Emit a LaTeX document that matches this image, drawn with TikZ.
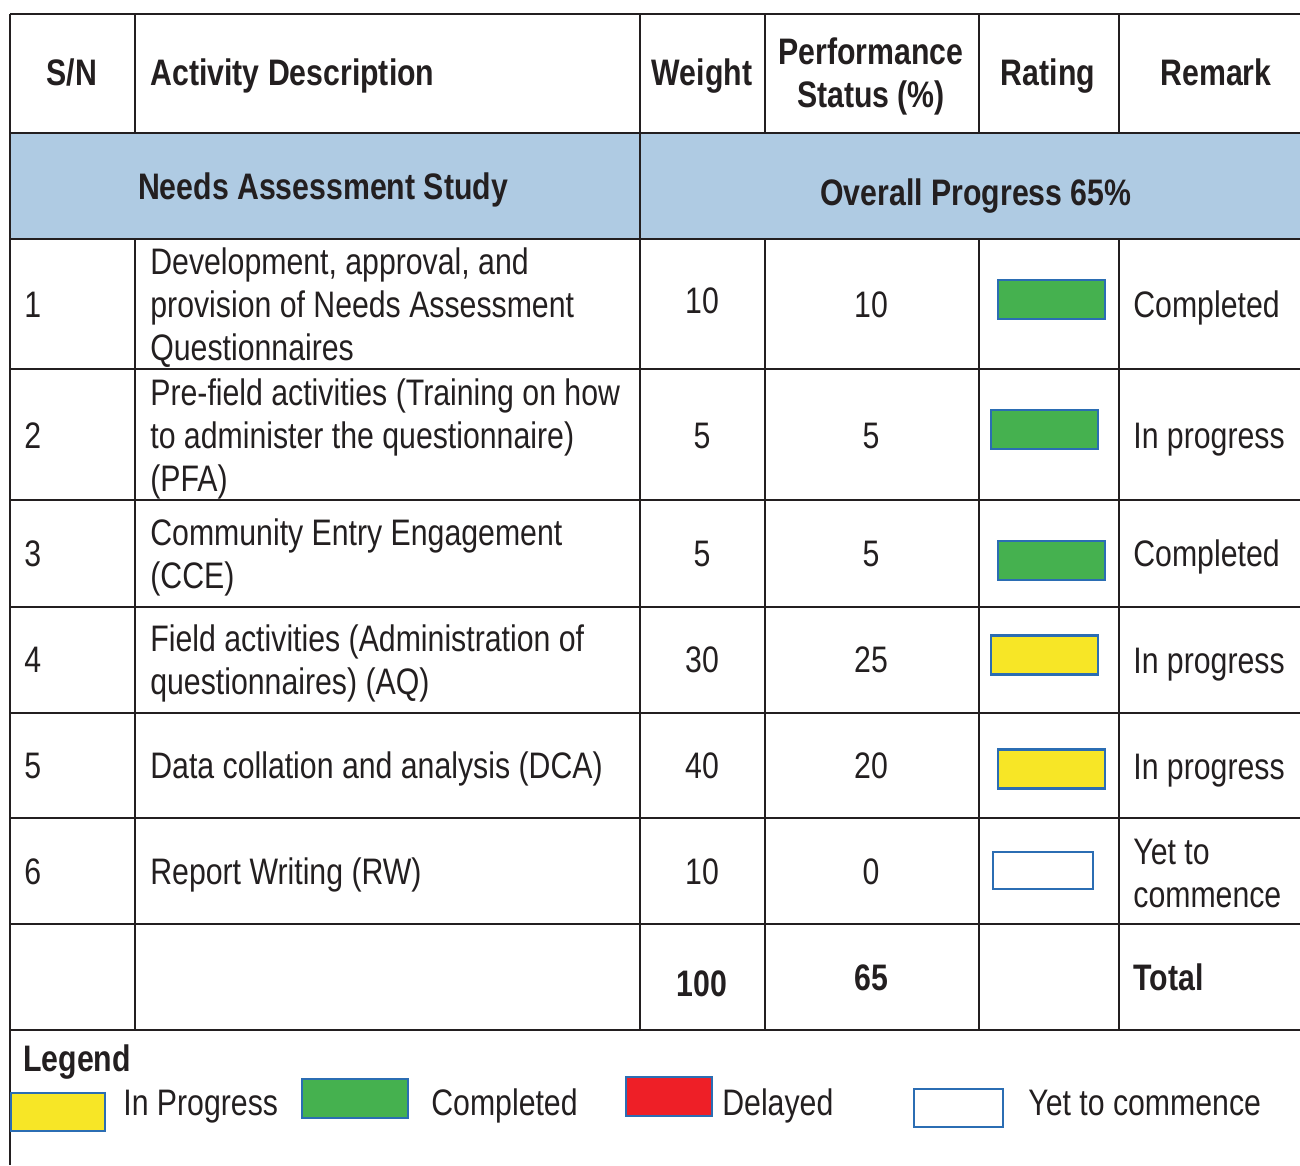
\documentclass[tikz,border=0pt]{standalone}
\usepackage{fontspec}
\setmainfont{Liberation Sans}[FakeStretch=0.82]
\definecolor{bandblue}{HTML}{AFCBE3}
\definecolor{rulegray}{HTML}{231F20}
\definecolor{edgeblue}{HTML}{2B6DB3}
\definecolor{donegreen}{HTML}{45B14F}
\definecolor{busyyellow}{HTML}{F7E626}
\definecolor{latered}{HTML}{EE1F27}

\begin{document}
\begin{tikzpicture}[x=0.02cm, y=-0.02cm,
  every node/.style={font=\fontsize{21}{24.5}\selectfont, text=rulegray, inner sep=0pt,
    text height=19.5pt, text depth=4.5pt},
  head/.style={font=\fontsize{21}{24.5}\selectfont\bfseries},
  cell/.style={anchor=west, align=left},
  multi/.style={text height=, text depth=, yshift=-2.2pt},
  ratebox/.style={draw=edgeblue, line width=1.6pt, text height=0pt, text depth=0pt,
    minimum width=2.14cm, minimum height=0.78cm},
  rule/.style={draw=rulegray, line width=1.4pt}]
  \useasboundingbox (0,0) rectangle (1300,1165);

  % band and grid
  \fill[bandblue] (10,133) rectangle (1300,239);
  \foreach \y in {14,133,239,369,500,607,713,818,924,1030}
    \draw[rule] (10,\y) -- (1300,\y);
  \draw[rule] (10,14) -- (10,1165);
  \draw[rule] (640,14) -- (640,1030);
  \foreach \x in {135,765,979,1119} {
    \draw[rule] (\x,14) -- (\x,133);
    \draw[rule] (\x,239) -- (\x,1030);
  }

  % header
  \node[head] (hsn) at (72,72) {S/N};
  \node[head, cell] (hdesc) at (150,72) {Activity Description};
  \node[head] (hwt) at (702,72) {Weight};
  \node[head, multi, align=center] (hperf) at (871,73) {Performance\\Status (\%)};
  \node[head] (hrate) at (1048,72) {Rating};
  \node[head] (hrem) at (1216,72) {Remark};
  \node[head] (study) at (323,186) {Needs Assessment Study};
  \node[head] (overall) at (976,192) {Overall Progress 65\%};

  % row 1
  \node[cell] (sn1) at (24,304) {1};
  \node[cell, multi] (desc1) at (150,304) {Development, approval, and\\provision of Needs Assessment\\Questionnaires};
  \node (wt1) at (702,300) {10};
  \node (perf1) at (871,304) {10};
  \node[ratebox, fill=donegreen] (box1) at (1051.5,299.5) {};
  \node[cell] (rem1) at (1133,304) {Completed};

  % row 2
  \node[cell] (sn2) at (24,435) {2};
  \node[cell, multi] (desc2) at (150,435) {Pre-field activities (Training on how\\to administer the questionnaire)\\(PFA)};
  \node (wt2) at (702,435) {5};
  \node (perf2) at (871,435) {5};
  \node[ratebox, fill=donegreen] (box2) at (1044.5,429.5) {};
  \node[cell] (rem2) at (1133,435) {In progress};

  % row 3
  \node[cell] (sn3) at (24,553) {3};
  \node[cell, multi] (desc3) at (150,554) {Community Entry Engagement\\(CCE)};
  \node (wt3) at (702,553) {5};
  \node (perf3) at (871,553) {5};
  \node[ratebox, fill=donegreen] (box3) at (1051.5,560.5) {};
  \node[cell] (rem3) at (1133,553) {Completed};

  % row 4
  \node[cell] (sn4) at (24,659) {4};
  \node[cell, multi] (desc4) at (150,660) {Field activities (Administration of\\questionnaires) (AQ)};
  \node (wt4) at (702,659) {30};
  \node (perf4) at (871,659) {25};
  \node[ratebox, fill=busyyellow] (box4) at (1044.5,655) {};
  \node[cell] (rem4) at (1133,660) {In progress};

  % row 5
  \node[cell] (sn5) at (24,765) {5};
  \node[cell] (desc5) at (150,765) {Data collation and analysis (DCA)};
  \node (wt5) at (702,765) {40};
  \node (perf5) at (871,765) {20};
  \node[ratebox, fill=busyyellow] (box5) at (1051.5,769) {};
  \node[cell] (rem5) at (1133,766) {In progress};

  % row 6
  \node[cell] (sn6) at (24,871) {6};
  \node[cell] (desc6) at (150,871) {Report Writing (RW)};
  \node (wt6) at (702,871) {10};
  \node (perf6) at (871,871) {0};
  \node[ratebox, fill=white, minimum width=2cm, minimum height=0.74cm] (box6) at (1043,870.5) {};
  \node[cell, multi, yshift=1pt] (rem6) at (1133,871) {Yet to\\commence};

  % totals
  \node[head] (wtsum) at (702,983) {100};
  \node[head] (perfsum) at (871,977) {65};
  \node[head, cell] (total) at (1133,977) {Total};

  % legend
  \node[head, cell] (legend) at (23,1058) {Legend};
  \node[ratebox, fill=busyyellow, minimum width=1.88cm, minimum height=0.76cm] (keyprog) at (58,1112) {};
  \node[cell] (lblprog) at (123,1102) {In Progress};
  \node[ratebox, fill=donegreen, minimum width=2.12cm] (keydone) at (355,1098.5) {};
  \node[cell] (lbldone) at (431,1102) {Completed};
  \node[ratebox, fill=latered, minimum width=1.72cm] (keylate) at (669,1096.5) {};
  \node[cell] (lbllate) at (722,1102) {Delayed};
  \node[ratebox, fill=white, minimum width=1.78cm, minimum height=0.76cm] (keyyet) at (958.5,1108) {};
  \node[cell] (lblyet) at (1028,1102) {Yet to commence};
\end{tikzpicture}
\end{document}
